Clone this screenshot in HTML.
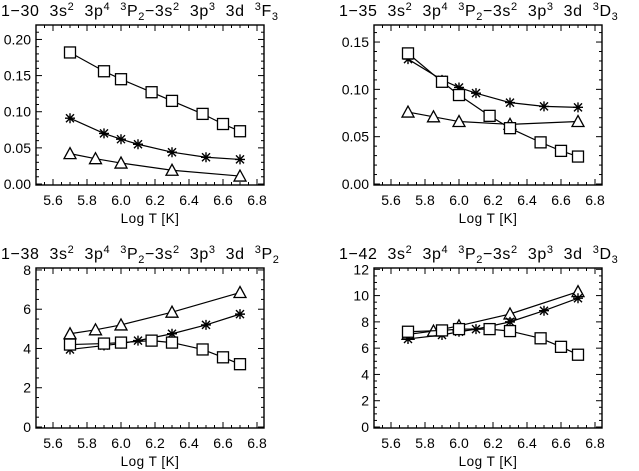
<!DOCTYPE html>
<html><head><meta charset="utf-8"><style>
body{margin:0;background:#fff}
svg{display:block;font-family:"Liberation Sans",sans-serif}
</style></head><body>
<svg id="c" width="639" height="471" viewBox="0 0 639 471"></svg>
<script>
const xS5=[5.7,5.9,6.0,6.18,6.3,6.48,6.6,6.7];
const xA=[5.7,5.9,6.0,6.1,6.3,6.5,6.7];
const xT=[5.7,5.85,6.0,6.3,6.7];
const xTicks=["5.6","5.8","6.0","6.2","6.4","6.6","6.8"];
const p1Sq=[0.182,0.156,0.145,0.127,0.115,0.097,0.083,0.073];
const p1As=[0.091,0.070,0.062,0.055,0.044,0.037,0.034];
const p1Tr=[0.042,0.035,0.029,0.019,0.011];
const p1Ticks=["0.00","0.05","0.10","0.15","0.20"];
const p2Sq=[0.138,0.108,0.094,0.072,0.059,0.044,0.035,0.029];
const p2As=[0.132,0.110,0.102,0.096,0.086,0.082,0.081];
const p2Tr=[0.076,0.071,0.066,0.063,0.066];
const p2Ticks=["0.00","0.05","0.10","0.15"];
const p3Sq=[4.2,4.25,4.3,4.4,4.3,3.95,3.55,3.2];
const p3As=[3.95,4.15,4.25,4.4,4.75,5.2,5.75];
const p3Tr=[4.75,4.95,5.2,5.85,6.85];
const p3Ticks=["0","2","4","6","8"];
const p4Sq=[7.25,7.35,7.45,7.45,7.3,6.75,6.1,5.5];
const p4As=[6.7,7.0,7.25,7.45,8.0,8.85,9.8];
const p4Tr=[7.05,7.3,7.7,8.6,10.3];
const p4Ticks=["0","2","4","6","8","10","12"];

const NS="http://www.w3.org/2000/svg";
const svg=document.getElementById('c');
function mk(tag,attrs,parent){const e=document.createElementNS(NS,tag);for(const k in attrs)e.setAttribute(k,attrs[k]);(parent||svg).appendChild(e);return e;}

const panels=[
 {id:"1-30",ox:0,oy:0,ymax:0.22,minor:0.01,sq:p1Sq,as:p1As,tr:p1Tr,ticks:p1Ticks,last:"F",lastSub:"3"},
 {id:"1-35",ox:338,oy:0,ymax:0.168,minor:0.01,sq:p2Sq,as:p2As,tr:p2Tr,ticks:p2Ticks,last:"D",lastSub:"3"},
 {id:"1-38",ox:0,oy:243,ymax:8.1,minor:0.5,sq:p3Sq,as:p3As,tr:p3Tr,ticks:p3Ticks,last:"P",lastSub:"2"},
 {id:"1-42",ox:338,oy:243,ymax:12.1,minor:0.5,sq:p4Sq,as:p4As,tr:p4Tr,ticks:p4Ticks,last:"D",lastSub:"3"}
];

panels.forEach((p,i)=>{
 const g=mk('g',{transform:`translate(${p.ox},${p.oy})`});
 
 
 const L=36,R=264,T=25,B=185;
 const x=v=>L+(v-5.5)*170;
 const y=v=>184-v*(184-T)/p.ymax;
 const t=mk('text',{x:1,y:16,'font-size':'16','letter-spacing':'0.6'},g);
 
 
 t.innerHTML=`${p.id.replace('-','\u2212')}&#160; 3s<tspan dy="-6" font-size="11">2</tspan><tspan dy="6">&#160; 3p</tspan><tspan dy="-6" font-size="11">4</tspan><tspan dy="6">&#160; </tspan><tspan dy="-6" font-size="11">3</tspan><tspan dy="6">P</tspan><tspan dy="4" font-size="11">2</tspan><tspan dy="-4">\u22123s</tspan><tspan dy="-6" font-size="11">2</tspan><tspan dy="6">&#160; 3p</tspan><tspan dy="-6" font-size="11">3</tspan><tspan dy="6">&#160; 3d&#160; </tspan><tspan dy="-6" font-size="11">3</tspan><tspan dy="6">${p.last}</tspan><tspan dy="4" font-size="11">${p.lastSub}</tspan>`;
 const box=mk('rect',{x:L,y:T,width:R-L,height:B-T,fill:'none',stroke:'#000','stroke-width':1.4},g);
 
 
 for(let v=5.5;v<=6.83;v+=0.05){
  const vv=Math.round(v*100)/100; const major=Math.abs(vv*5-Math.round(vv*5))<1e-6 && vv>=5.6;
  const len=major?6:3;
  mk('line',{x1:x(vv),x2:x(vv),y1:B,y2:B-len,stroke:'#000'},g);
  mk('line',{x1:x(vv),x2:x(vv),y1:T,y2:T+len,stroke:'#000'},g);
 }
 xTicks.forEach(s=>{
  const e=mk('text',{x:x(+s),y:B+20,'font-size':14,'text-anchor':'middle'},g);e.textContent=s;
  
  
 });
 const xl=mk('text',{x:(L+R)/2,y:B+38,'font-size':13.5,'text-anchor':'middle','letter-spacing':'0.5'},g);xl.textContent='Log T [K]';
 
 
 for(let v=0;v<=p.ymax+1e-9;v+=p.minor){
  const vv=Math.round(v/p.minor)*p.minor;
  const major=p.ticks.some(s=>Math.abs(+s-vv)<1e-9);
  const len=major?6:3;
  mk('line',{x1:L,x2:L+len,y1:y(vv),y2:y(vv),stroke:'#000'},g);
  mk('line',{x1:R,x2:R-len,y1:y(vv),y2:y(vv),stroke:'#000'},g);
 }
 p.ticks.forEach(s=>{
  const e=mk('text',{x:L-5,y:y(+s)+5,'font-size':14,'text-anchor':'end'},g);e.textContent=s;
  
  
 });
 function series(xs,ys,kind){
  const pts=xs.map((v,k)=>[x(v),y(ys[k])]);
  const pl=mk('polyline',{points:pts.map(q=>q.join(',')).join(' '),fill:'none',stroke:'#000','stroke-width':1.2},g);
  
  
  pts.forEach(([a,b])=>{
   let m;
   if(kind==='square') m=mk('rect',{x:a-5.5,y:b-5.5,width:11,height:11,fill:'#fff',stroke:'#000','stroke-width':1.3},g);
   else if(kind==='triangle') m=mk('polygon',{points:`${a},${b-6} ${a-6},${b+5} ${a+6},${b+5}`,fill:'#fff',stroke:'#000','stroke-width':1.3},g);
   else {m=mk('path',{d:`M${a-5},${b}H${a+5}M${a},${b-5}V${b+5}M${a-4},${b-4}L${a+4},${b+4}M${a-4},${b+4}L${a+4},${b-4}`,stroke:'#000','stroke-width':1.4},g);}
   
   
  });
 }
 series(xT,p.tr,'triangle');
 series(xA,p.as,'asterisk');
 series(xS5,p.sq,'square');
});
</script>
</body></html>
